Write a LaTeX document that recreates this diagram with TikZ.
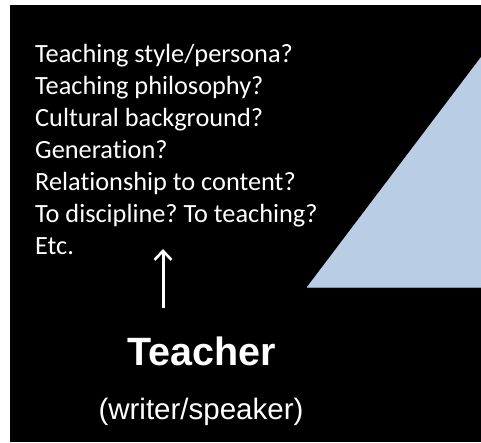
\documentclass[tikz,border=0pt]{standalone}
\usepackage{fontspec}
\setmainfont[Ligatures=NoCommon]{Carlito}
\newfontfamily\arialfont{Liberation Sans}
\usetikzlibrary{arrows.meta}
\frenchspacing

\definecolor{triblue}{HTML}{B9CDE5}
\definecolor{triedge}{HTML}{7F96B2}

\tikzset{
  question/.style={anchor=base west, inner sep=0pt, text=white, font=\fontsize{26.3}{30}\selectfont},
  role/.style={anchor=base, inner sep=0pt, text=white, font=\arialfont\bfseries\fontsize{39.5}{46}\selectfont},
  rolenote/.style={anchor=base, inner sep=0pt, text=white, font=\arialfont\fontsize{29.5}{34}\selectfont},
  uparrow/.style={white, line width=3pt, -{Straight Barb[length=9pt, width=17pt, line width=2.6pt]}}
}

\begin{document}
\begin{tikzpicture}[x=1pt, y=-1pt]
  \useasboundingbox (0,0) rectangle (481,442);
  \fill[white] (0,0) rectangle (481,442);
  \fill[black] (10,5) rectangle (481,442);

  % triangle at the right edge
  \fill[triblue] (307,287) -- (481,57) -- (481,287) -- cycle;
  \draw[triedge, line width=0.8pt] (307,287) -- (481,287);

  % questions about the teacher
  \foreach \txt [count=\i from 0] in {Teaching style/persona?, Teaching philosophy?,
      Cultural background?, Generation?, Relationship to content?,
      To discipline? To teaching?, Etc.} {
    \node[question] (q\i) at (35, {62+32*\i}) {\txt};
  }

  \node[role] (teacher) at (202,365) {Teacher};
  \node[rolenote] (writer) at (201,419) {(writer/speaker)};

  \coordinate (tail) at (163,308);
  \coordinate (tip) at (163,249);
  \draw[uparrow] (tail) -- (tip);
\end{tikzpicture}
\end{document}
